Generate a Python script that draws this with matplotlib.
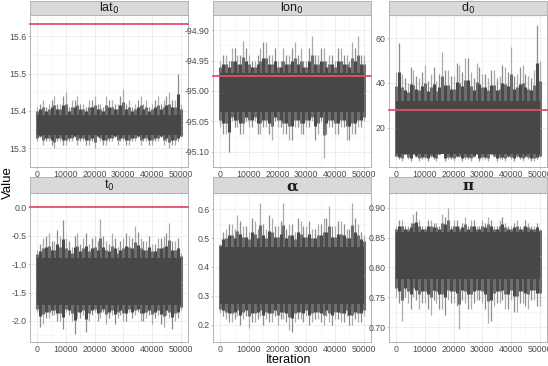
import numpy as np
import matplotlib
matplotlib.use("Agg")
import matplotlib.pyplot as plt

plt.rcParams['font.family'] = ['Liberation Sans', 'DejaVu Sans']

# facet titles and true values (red line, None = no line)
names = ['lat$_0$', 'lon$_0$', 'd$_0$', 't$_0$', 'α', 'π']
truth = [15.634, -94.975, 28.0, 0.0, None, None]

# trace envelope: dense core band + spike tips
# tips "a" at 0, 2000, ..., 50000 ; tips "b" at 1000, 3000, ..., 49000
iter_a = np.arange(0, 50001, 2000)
iter_b = np.arange(1000, 49001, 2000)

core = [(15.335, 15.39), (-95.035, -94.97), (8, 32),
        (-1.72, -0.9), (0.27, 0.47), (0.78, 0.86)]

tops_a = [
    [15.41, 15.43, 15.42, 15.44, 15.42, 15.45, 15.43, 15.44, 15.42, 15.43, 15.44, 15.42, 15.44,
     15.43, 15.42, 15.46, 15.43, 15.42, 15.44, 15.43, 15.42, 15.44, 15.43, 15.45, 15.43, 15.42],
    [-94.95, -94.94, -94.93, -94.94, -94.918, -94.94, -94.95, -94.93, -94.92, -94.94, -94.95, -94.93, -94.94,
     -94.92, -94.93, -94.95, -94.91, -94.94, -94.93, -94.94, -94.95, -94.93, -94.94, -94.92, -94.91, -94.94],
    [45, 44, 40, 46, 42, 48, 44, 41, 54, 46, 43, 48, 51, 45, 49, 44, 42, 46, 43, 47, 56, 44, 48, 43, 46, 50],
    [-0.75, -0.55, -0.45, -0.6, -0.5, -0.55, -0.7, -0.45, -0.55, -0.65, -0.5, -0.2, -0.6,
     -0.45, -0.7, -0.55, -0.5, -0.33, -0.55, -0.6, -0.65, -0.55, -0.5, -0.27, -0.6, -0.8],
    [0.48, 0.53, 0.55, 0.58, 0.54, 0.52, 0.56, 0.62, 0.53, 0.57, 0.54, 0.62, 0.55,
     0.52, 0.56, 0.54, 0.53, 0.55, 0.57, 0.61, 0.54, 0.56, 0.53, 0.62, 0.55, 0.51],
    [0.87, 0.88, 0.87, 0.89, 0.88, 0.87, 0.88, 0.875, 0.89, 0.9, 0.88, 0.87, 0.885,
     0.88, 0.87, 0.88, 0.885, 0.87, 0.88, 0.875, 0.87, 0.88, 0.87, 0.875, 0.87, 0.865],
]
tops_b = [
    [15.42, 15.41, 15.43, 15.42, 15.44, 15.41, 15.43, 15.42, 15.41, 15.43, 15.42, 15.41, 15.43,
     15.42, 15.44, 15.42, 15.41, 15.43, 15.42, 15.41, 15.43, 15.42, 15.44, 15.43, 15.50],
    [-94.94, -94.95, -94.93, -94.94, -94.93, -94.95, -94.94, -94.92, -94.94, -94.93, -94.95, -94.94, -94.93,
     -94.94, -94.95, -94.93, -94.94, -94.93, -94.95, -94.94, -94.93, -94.94, -94.95, -94.93, -94.94],
    [58, 42, 47, 43, 45, 41, 47, 44, 46, 43, 49, 45, 51, 42, 47, 44, 46, 42, 48, 45, 43, 47, 44, 42, 66],
    [-0.65, -0.5, -0.6, -0.4, -0.22, -0.6, -0.5, -0.65, -0.45, -0.55, -0.6, -0.5, -0.65,
     -0.55, -0.6, -0.45, -0.55, -0.43, -0.6, -0.5, -0.65, -0.55, -0.45, -0.6, -0.55],
    [0.52, 0.55, 0.53, 0.56, 0.54, 0.57, 0.53, 0.55, 0.58, 0.54, 0.56, 0.53, 0.55,
     0.57, 0.54, 0.56, 0.53, 0.55, 0.57, 0.54, 0.56, 0.55, 0.53, 0.57, 0.52],
    [0.88, 0.87, 0.875, 0.894, 0.87, 0.88, 0.875, 0.87, 0.885, 0.87, 0.88, 0.875, 0.87,
     0.88, 0.87, 0.875, 0.88, 0.87, 0.885, 0.87, 0.875, 0.87, 0.88, 0.87, 0.875],
]
bots_a = [
    [15.32, 15.31, 15.32, 15.30, 15.32, 15.31, 15.32, 15.31, 15.32, 15.31, 15.30, 15.32, 15.31,
     15.32, 15.31, 15.32, 15.31, 15.32, 15.31, 15.32, 15.31, 15.32, 15.31, 15.30, 15.31, 15.33],
    [-95.06, -95.07, -95.05, -95.06, -95.07, -95.06, -95.05, -95.07, -95.06, -95.08, -95.06, -95.07, -95.08,
     -95.06, -95.07, -95.06, -95.05, -95.07, -95.11, -95.06, -95.07, -95.06, -95.08, -95.07, -95.06, -95.05],
    [7, 5, 6, 8, 5, 6, 7, 5, 9, 6, 5, 7, 6, 5, 8, 6, 5, 7, 6, 5, 6, 7, 5, 6, 5, 7],
    [-1.85, -2.05, -1.95, -1.9, -2.0, -1.85, -2.0, -1.95, -1.9, -2.0, -1.85, -1.95, -2.05,
     -1.9, -1.95, -2.0, -1.85, -1.9, -2.0, -1.95, -2.05, -1.9, -2.1, -1.95, -2.0, -1.8],
    [0.24, 0.22, 0.21, 0.23, 0.22, 0.19, 0.21, 0.23, 0.22, 0.21, 0.2, 0.22, 0.18,
     0.21, 0.22, 0.23, 0.21, 0.22, 0.2, 0.21, 0.22, 0.21, 0.23, 0.2, 0.21, 0.23],
    [0.75, 0.71, 0.74, 0.75, 0.73, 0.74, 0.72, 0.74, 0.73, 0.745, 0.74, 0.697, 0.74,
     0.73, 0.745, 0.74, 0.707, 0.735, 0.74, 0.73, 0.745, 0.726, 0.74, 0.73, 0.745, 0.735],
]
bots_b = [
    [15.33, 15.32, 15.31, 15.32, 15.31, 15.32, 15.33, 15.32, 15.31, 15.32, 15.33, 15.31, 15.32,
     15.33, 15.32, 15.31, 15.32, 15.33, 15.32, 15.31, 15.32, 15.33, 15.32, 15.31, 15.32],
    [-95.07, -95.10, -95.06, -95.07, -95.05, -95.06, -95.07, -95.06, -95.07, -95.05, -95.06, -95.07, -95.08,
     -95.06, -95.07, -95.06, -95.08, -95.05, -95.07, -95.06, -95.07, -95.06, -95.08, -95.07, -95.06],
    [6, 8, 5, 7, 6, 5, 6, 8, 5, 6, 7, 5, 6, 7, 5, 6, 8, 5, 6, 7, 5, 6, 7, 5, 6],
    [-2.1, -1.95, -1.9, -2.0, -2.14, -1.9, -2.23, -1.95, -2.2, -1.9, -2.0, -1.85, -1.95,
     -2.05, -1.9, -2.0, -1.95, -1.85, -2.0, -1.9, -1.95, -2.05, -1.9, -2.15, -1.95],
    [0.23, 0.21, 0.22, 0.2, 0.23, 0.21, 0.22, 0.2, 0.21, 0.23, 0.22, 0.21, 0.175,
     0.22, 0.21, 0.2, 0.22, 0.21, 0.23, 0.2, 0.22, 0.21, 0.2, 0.22, 0.21],
    [0.74, 0.75, 0.73, 0.745, 0.74, 0.73, 0.745, 0.73, 0.72, 0.74, 0.735, 0.745, 0.73,
     0.74, 0.745, 0.73, 0.71, 0.74, 0.745, 0.73, 0.726, 0.74, 0.735, 0.745, 0.735],
]

yticks = [[15.3, 15.4, 15.5, 15.6],
          [-95.10, -95.05, -95.00, -94.95, -94.90],
          [20, 40, 60],
          [-2.0, -1.5, -1.0, -0.5, 0.0],
          [0.2, 0.3, 0.4, 0.5, 0.6],
          [0.70, 0.75, 0.80, 0.85, 0.90]]
ylims = [(15.283, 15.657), (-95.1195, -94.8915), (2.4, 70.4),
         (-2.37, 0.116), (0.14, 0.656), (0.687, 0.909)]
yfmt = ['%.1f', '%.2f', '%d', '%.1f', '%.1f', '%.2f']
xticks = [0, 10000, 20000, 30000, 40000, 50000]

W, H = 548, 366
fig = plt.figure(figsize=(W / 100, H / 100), dpi=100)

cols = [(30, 188), (213, 371), (389, 547)]
rows = [((1, 15), (15, 167)), ((177, 193), (193, 342))]


def box(l, t, r, b):
    return [l / W, 1 - b / H, (r - l) / W, (b - t) / H]


def spikes(ax, x, tip, edge, centre, dark, light):
    # one spike per iteration: dark near the core, lighter towards the tip
    tip = np.array(tip)
    mid = edge + 0.5 * (tip - edge)
    ax.vlines(x, centre, tip, color=light, lw=0.9, zorder=3)
    ax.vlines(x, centre, mid, color=dark, lw=2.2, zorder=3)


for i in range(6):
    (l, r) = cols[i % 3]
    (st, sb), (pt, pb) = rows[i // 3]

    ax = fig.add_axes(box(l, pt, r, pb))
    ax.set_facecolor('white')
    ax.set_xlim(-2500, 52500)
    ax.set_ylim(*ylims[i])

    # grid like ggplot light theme
    ax.set_xticks(xticks)
    ax.set_xticks([5000, 15000, 25000, 35000, 45000], minor=True)
    yt = yticks[i]
    ax.set_yticks(yt)
    step = yt[1] - yt[0]
    ax.set_yticks([v + step / 2 for v in [yt[0] - step] + yt], minor=True)
    ax.grid(which='major', color='#EBEBEB', lw=0.6)
    ax.grid(which='minor', color='#F4F4F4', lw=0.4)
    ax.set_axisbelow(True)
    ax.set_xticklabels([str(x) for x in xticks])
    ax.set_yticklabels([yfmt[i] % v for v in yt])
    ax.tick_params(which='major', length=1.5, width=0.5, color='#B3B3B3',
                   labelsize=6.3, labelcolor='#4D4D4D', pad=1.0)
    ax.tick_params(which='minor', length=0)
    for s in ax.spines.values():
        s.set_color('#B3B3B3')
        s.set_linewidth(0.7)

    # trace
    lo, hi = core[i]
    c = (lo + hi) / 2
    spikes(ax, iter_a, tops_a[i], hi, c, '#6E6E6E', '#ABABAB')
    spikes(ax, iter_b, tops_b[i], hi, c, '#4A4A4A', '#8C8C8C')
    spikes(ax, iter_a, bots_a[i], lo, c, '#6E6E6E', '#ABABAB')
    spikes(ax, iter_b, bots_b[i], lo, c, '#4A4A4A', '#8C8C8C')
    ax.fill_between([0, 50000], lo, hi, color='#474747', lw=0, zorder=4)

    if truth[i] is not None:
        ax.axhline(truth[i], color='#E2506D', lw=1.3, clip_on=False, zorder=5)

    # strip
    sx = fig.add_axes(box(l, st, r, sb))
    sx.set_facecolor('#D9D9D9')
    sx.set_xticks([])
    sx.set_yticks([])
    for s in sx.spines.values():
        s.set_color('#B3B3B3')
        s.set_linewidth(0.7)
    if i >= 4:
        sx.text(0.5, 0.42, names[i], transform=sx.transAxes, ha='center', va='center',
                fontsize=11, color='#1A1A1A', family=['DejaVu Serif'], weight='bold')
    else:
        sx.text(0.5, 0.45, names[i], transform=sx.transAxes, ha='center', va='center',
                fontsize=9, color='#1A1A1A')

fig.text(8 / W, 1 - 183 / H, 'Value', rotation=90, ha='center', va='center', fontsize=9.5)
fig.text(289 / W, 1 - 354 / H, 'Iteration', ha='center', va='top', fontsize=9)

fig.savefig('out.png', dpi=100)
